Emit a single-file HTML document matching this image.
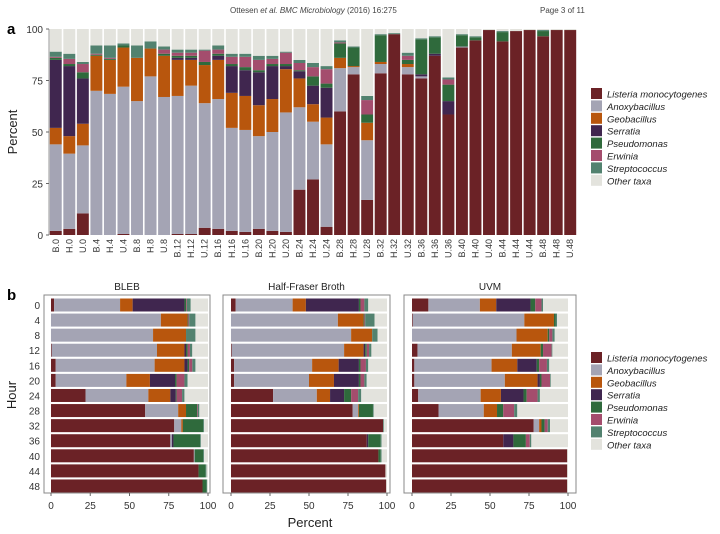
<!DOCTYPE html>
<html><head><meta charset="utf-8"><style>
body{margin:0;background:#fff;}
svg{display:block;font-family:"Liberation Sans",sans-serif;}
</style></head><body>
<svg id="c" width="720" height="534" viewBox="0 0 720 534">
<text x="230" y="13" font-size="8" fill="#444">Ottesen <tspan font-style="italic">et al. BMC Microbiology</tspan> (2016) 16:275</text>
<text x="540" y="13" font-size="8" fill="#444">Page 3 of 11</text>
<text x="7" y="34" font-size="15" font-weight="bold">a</text>
<text x="7" y="300" font-size="15" font-weight="bold">b</text>
<g id="ga"></g><g id="gb"></g><g id="legends"></g>
</svg>
<script>
const media=["B","H","U"];
const mediaTitles=["BLEB","Half-Fraser Broth","UVM"];
const hours=[0,4,8,12,16,20,24,28,32,36,40,44,48];
const taxa=["Listeria monocytogenes","Anoxybacillus","Geobacillus","Serratia","Pseudomonas","Erwinia","Streptococcus","Other taxa"];
const colors=["#6b2226","#a4a4b4","#b8560d","#40264f","#2f6a3c","#a44d6d","#52826f","#e3e3dd"];
// order: B0,H0,U0,B4,H4,U4,...
const listeria=[2,3,10.5,0,0,0.5,0,0,0,0.5,0.5,3.5,3,2,1.5,3,2,1.5,22,27,4,60,78,17,78.5,97.5,78,76,87,58.5,91,94.5,99.5,94,99,99.5,96.5,99.5,99.5];
const anoxy=[42,36.5,33,70,68.5,71.5,65,77,67,67,72,60.5,63,50,49.5,45,48,58,40,28,40,21,3.5,29,4.5,0,3.5,1,0,0,0.5,0,0,0,0,0,0,0,0];
const geo=[8,8.5,10.5,17,16.5,19,21,13.5,20,17.5,12.5,18.5,19,17,16.5,15,16,21,14,8.5,13,5,0.5,8.5,1,0,1.5,0,0,0,0,0,0,0,0,0,0,0,0];
const serratia=[33,34,22,0,0,0,0,0,0,1,1,0,2,13,12.5,16,16,1.5,3.5,9,14.5,0,0,0,0,0,0,1,1,6.5,0,0,0,0,0,0,0,0,0];
const pseudo=[1,1,3,0.5,0.5,1,0,0,1,1,1,1.5,1,1,1.5,1,1,1,0.5,4.5,2,7,9,4,13,0,2,17,8,8,5.5,1.5,0,4.5,0,0,2.5,0,0];
const erwinia=[0.5,2.5,4,0.5,0.5,0,0,0,2,1.5,1.5,5.5,2,3.5,5,5,2.5,5.5,3.5,4.5,7,0.5,0,7,0,0,2,0,0,2.5,0,0,0,0,0,0,0,0,0];
const strep=[2.5,2.5,1,4,6,1,6,3.5,1.5,1.5,1.5,0.5,2,1.5,1.5,2,1.5,0.5,1.5,2,1.5,1,0.5,2,0.5,0.5,1.5,0.5,0.5,1,0.5,0.5,0,0.5,0,0,0.5,0,0];
const series=[listeria,anoxy,geo,serratia,pseudo,erwinia,strep];
const yTicks=[0,25,50,75,100];

const NS="http://www.w3.org/2000/svg";
function mk(tag,attrs,parent,txt){const e=document.createElementNS(NS,tag);for(const k in attrs)e.setAttribute(k,attrs[k]);if(txt!==undefined)e.textContent=txt;parent.appendChild(e);return e;}
function stackOf(i){const v=series.map(s=>s[i]);const sum=v.reduce((a,b)=>a+b,0);v.push(Math.max(0,100-sum));return v;}

// Panel a
const ga=document.getElementById('ga');
const ax0=49,ax1=577,ay0=235,ay1=29,n=listeria.length,band=(ax1-ax0)/n;
const ya=v=>ay0+(ay1-ay0)*v/100;
const xa=i=>ax0+band*i;
mk('line',{x1:ax0,y1:ay1,x2:ax0,y2:ay0,stroke:'#999'},ga);
yTicks.forEach(t=>{const tl=mk('text',{x:ax0-6,y:ya(t)+4,'font-size':10,'text-anchor':'end',fill:'#333'},ga,t);


mk('line',{x1:ax0-3,x2:ax0,y1:ya(t),y2:ya(t),stroke:'#666'},ga);});
const yt=mk('text',{x:0,y:0,'font-size':13,'text-anchor':'middle',fill:'#222',transform:'translate(17,132) rotate(-90)'},ga,'Percent');


for(let i=0;i<n;i++){
  const v=stackOf(i);let cum=0;
  const m=i%3,h=Math.floor(i/3);
  v.forEach((val,k)=>{if(val<=0)return;
    const r=mk('rect',{x:xa(i)+0.8,y:ya(cum+val),width:band-1.6,height:ya(cum)-ya(cum+val),fill:colors[k]},ga);
    
    
    cum+=val;});
  const cx=xa(i)+band/2;
  const lab=mk('text',{x:0,y:0,'font-size':9,'text-anchor':'end',fill:'#333',transform:`translate(${cx+3},239) rotate(-90)`},ga,media[m]+'.'+hours[h]);
  
  
}

// Panel b
const gb=document.getElementById('gb');
const panels=[[44,210,51,208],[223,390,231,387],[404,576,412,568]];
const by0=295,by1=493,rowStep=15.08,row0=305,bh=13;
const yb=h=>row0+h*rowStep;
hours.forEach((hr,h)=>{const t=mk('text',{x:40,y:yb(h)+4,'font-size':10,'text-anchor':'end',fill:'#333'},gb,hr);

});
const ht=mk('text',{x:0,y:0,'font-size':13,'text-anchor':'middle',fill:'#222',transform:'translate(16,395) rotate(-90)'},gb,'Hour');


const pt=mk('text',{x:310,y:527,'font-size':13,'text-anchor':'middle',fill:'#222'},gb,'Percent');


panels.forEach((p,m)=>{
  const xb=v=>p[2]+(p[3]-p[2])*v/100;
  const fr=mk('rect',{x:p[0],y:by0,width:p[1]-p[0],height:by1-by0,fill:'#fff',stroke:'#888','stroke-width':1},gb);
  
  
  const tt=mk('text',{x:(p[0]+p[1])/2,y:290,'font-size':10,'text-anchor':'middle',fill:'#222'},gb,mediaTitles[m]);
  
  
  hours.forEach((hr,h)=>{const i=h*3+m;const v=stackOf(i);let cum=0;
    v.forEach((val,k)=>{if(val<=0)return;
      const r=mk('rect',{x:xb(cum),y:yb(h)-bh/2,width:xb(cum+val)-xb(cum),height:bh,fill:colors[k]},gb);
      
      
      cum+=val;});});
  yTicks.forEach(t=>{const l=mk('text',{x:xb(t),y:509,'font-size':10,'text-anchor':'middle',fill:'#333'},gb,t);
    
    
    mk('line',{x1:xb(t),x2:xb(t),y1:by1,y2:by1+3,stroke:'#666'},gb);});
});

// Legends
const gl=document.getElementById('legends');
[[591,88],[591,352]].forEach((pos,li)=>{
  taxa.forEach((name,k)=>{const y=pos[1]+k*12.4;
    const s=mk('rect',{x:pos[0],y:y,width:11,height:11,fill:colors[k]},gl);
    
    
    const t=mk('text',{x:pos[0]+16,y:y+9.5,'font-size':9.5,'font-style':'italic',fill:'#222'},gl,name);
    
    });
});
</script>
</body></html>
